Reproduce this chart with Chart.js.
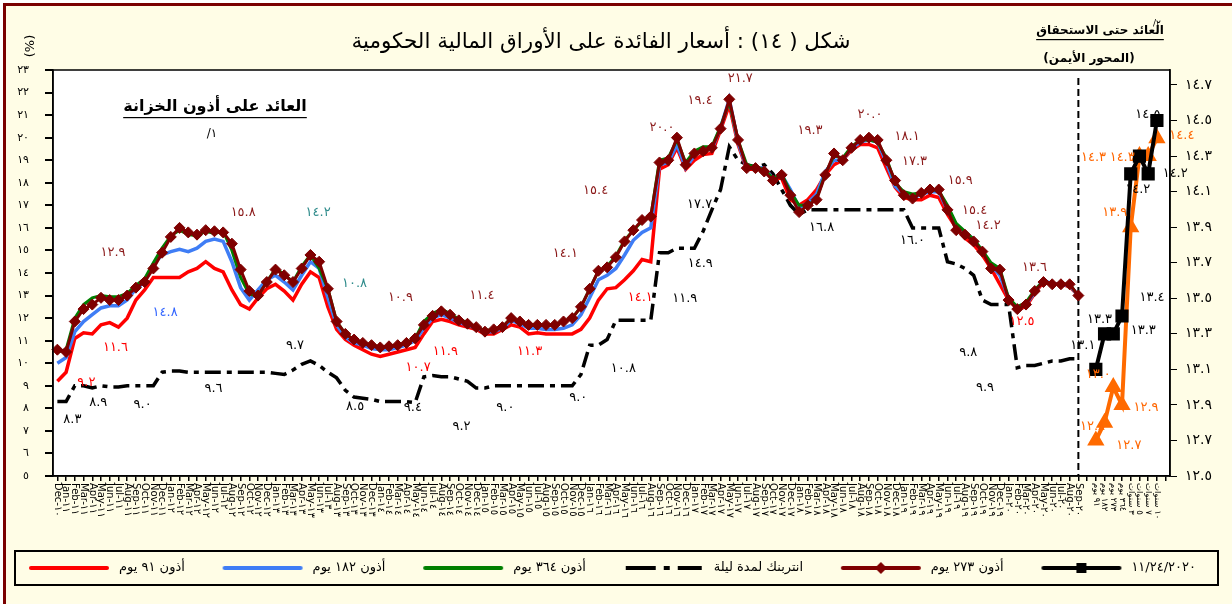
<!DOCTYPE html>
<html><head><meta charset="utf-8">
<script src="https://cdn.jsdelivr.net/npm/chart.js@4.4.0/dist/chart.umd.min.js"></script>
<style>html,body{margin:0;padding:0;background:#fff;}#wrap{width:1232px;height:604px;}</style>
</head><body><div id="wrap"><canvas id="c" width="1232" height="604"></canvas></div>
<script>
const toAr = s => String(s).replace(/[0-9]/g, d => '٠١٢٣٤٥٦٧٨٩'[d]);
const fmt = v => toAr(v.toFixed(1));

// ---- categories ----
const monthNames = ['Jan','Feb','Mar','Apr','May','Jun','Jul','Aug','Sep','Oct','Nov','Dec'];
const firstYear = 2010, firstMonth = 11, monthCount = 118;
const monthLabels = [];
for (let k = 0; k < monthCount; k++) {
  const m = (firstMonth + k) % 12, y = firstYear + Math.floor((firstMonth + k) / 12);
  monthLabels.push(monthNames[m] + '-' + toAr(String(y % 100).padStart(2, '0')));
}
const curveLabels = ['٩١ يوم','١٨٢ يوم','٢٧٣ يوم','٣٦٤ يوم','٣ سنوات','٥ سنوات','٧ سنوات','١٠ سنوات'];
const allLabels = [...monthLabels, '', ...curveLabels, ''];

// ---- left axis series (monthly, %) ----
const bill91 = [9.2,9.6,11.1,11.35,11.3,11.7,11.8,11.6,12.0,12.8,
13.25,13.8,13.8,13.8,13.8,14.05,14.2,14.5,14.2,14.05,
13.25,12.6,12.4,12.9,13.3,13.5,13.2,12.8,13.5,14.05,
13.8,12.5,11.5,11.05,10.8,10.6,10.4,10.3,10.4,10.5,
10.6,10.7,11.3,11.85,11.95,11.85,11.7,11.6,11.5,11.3,
11.3,11.5,11.7,11.6,11.3,11.35,11.3,11.3,11.3,11.3,
11.5,12.0,12.8,13.3,13.35,13.7,14.1,14.6,14.5,18.6,
18.8,19.55,18.6,19.0,19.25,19.3,20.35,21.45,19.7,18.6,
18.6,18.65,18.2,18.2,17.25,17.0,17.25,17.7,18.35,18.8,
19.0,19.45,19.7,19.7,19.55,18.65,17.8,17.35,17.25,17.25,
17.45,17.35,16.6,16.0,15.55,15.25,14.8,14.2,13.5,12.8,
12.4,12.5,13.1,13.6,13.5,13.5,13.4,13.0];
const bill182 = [10.0,10.25,11.4,11.85,12.15,12.45,12.55,12.55,12.8,13.3,
13.6,14.4,14.8,14.95,15.05,14.95,15.1,15.4,15.5,15.4,
14.5,13.35,12.8,13.25,13.7,13.9,13.6,13.25,13.9,14.5,
14.2,12.9,11.7,11.15,10.9,10.8,10.65,10.6,10.6,10.7,
10.8,11.0,11.55,12.0,12.15,12.0,11.8,11.7,11.55,11.4,
11.4,11.55,11.9,11.75,11.55,11.55,11.5,11.5,11.55,11.7,
12.15,12.9,13.7,13.9,14.2,14.8,15.45,15.8,16.0,18.8,
18.9,19.7,18.65,19.2,19.5,19.5,20.45,21.7,19.8,18.65,
18.65,18.65,18.2,18.35,17.7,16.9,17.1,17.5,18.5,19.0,
19.0,19.55,19.8,19.9,19.8,18.9,17.85,17.5,17.3,17.5,
17.6,17.6,16.8,16.15,15.8,15.5,14.95,14.35,13.9,12.9,
12.4,12.6,13.15,13.7,13.5,13.5,13.45,13.0];
const bill364 = [10.5,10.6,12.0,12.6,12.9,13.0,12.95,12.95,13.1,13.45,
13.75,14.45,15.1,15.65,15.9,15.7,15.65,15.85,15.75,15.85,
15.0,13.8,13.05,13.0,13.6,14.2,13.95,13.6,14.3,14.8,
14.2,13.3,11.85,11.3,11.05,10.9,10.8,10.7,10.75,10.8,
10.9,11.1,11.85,12.2,12.4,12.2,11.95,11.8,11.6,11.45,
11.5,11.6,12.0,11.85,11.7,11.7,11.7,11.7,11.85,12.0,
12.5,13.3,14.1,14.3,14.75,15.45,15.9,16.3,16.5,19.0,
19.1,19.9,18.9,19.4,19.6,19.6,20.5,21.6,19.9,18.8,
18.7,18.6,18.2,18.4,17.6,17.0,17.0,17.3,18.4,19.2,
19.1,19.6,19.9,19.9,19.8,19.1,18.0,17.6,17.5,17.55,
17.7,17.65,17.0,16.2,15.85,15.5,15.0,14.45,14.2,12.9,
12.5,12.7,13.25,13.65,13.5,13.5,13.5,13.0];
const interbank = [8.3,8.3,9.0,9.0,8.9,9.0,8.95,8.95,9.0,9.0,
9.0,9.0,9.6,9.65,9.65,9.6,9.6,9.6,9.6,9.6,
9.6,9.6,9.6,9.6,9.6,9.55,9.5,9.7,9.95,10.1,
9.9,9.6,9.35,8.8,8.5,8.45,8.4,8.3,8.3,8.3,
8.3,8.25,9.4,9.45,9.4,9.4,9.3,9.2,8.9,8.9,
9.0,9.0,9.0,9.0,9.0,9.0,9.0,9.0,9.0,9.0,
9.5,10.8,10.8,11.05,11.9,11.9,11.9,11.9,11.9,14.9,
14.9,15.1,15.1,15.1,15.85,16.8,17.7,19.6,19.0,18.8,
18.7,18.8,18.4,17.7,17.0,16.6,16.8,16.8,16.8,16.8,
16.8,16.8,16.8,16.8,16.8,16.8,16.8,16.8,16.0,16.0,
16.0,16.0,14.5,14.4,14.2,13.9,12.8,12.6,12.6,12.6,
9.8,9.9,9.9,10.0,10.1,10.1,10.2,10.2];
const bill273 = [10.6,10.5,11.85,12.4,12.6,12.9,12.8,12.8,13.0,13.35,
13.6,14.2,14.9,15.6,16.0,15.8,15.7,15.9,15.85,15.8,
15.3,14.15,13.2,13.0,13.6,14.15,13.9,13.6,14.2,14.8,
14.5,13.3,11.85,11.3,11.05,10.9,10.8,10.7,10.75,10.8,
10.9,11.1,11.7,12.1,12.3,12.15,11.9,11.75,11.6,11.4,
11.5,11.6,12.0,11.85,11.7,11.7,11.7,11.7,11.85,12.0,
12.5,13.3,14.1,14.25,14.7,15.4,15.9,16.35,16.5,18.9,
19.0,20.0,18.8,19.3,19.4,19.55,20.4,21.7,19.9,18.65,
18.65,18.5,18.1,18.35,17.45,16.7,17.0,17.25,18.35,19.3,
19.0,19.55,19.9,20.0,19.9,19.0,18.1,17.45,17.3,17.55,
17.7,17.7,16.8,15.9,15.7,15.4,14.95,14.2,14.15,12.8,
12.4,12.6,13.2,13.6,13.5,13.5,13.5,13.0];

// ---- right axis: yield to maturity curves ----
const curve20201124 = [13.1,13.3,13.3,13.4,14.2,14.3,14.2,14.5];
const curveOrange = [12.7,12.8,13.0,12.9,13.9,14.3,14.3,14.4];

// right axis tick labels
const rightTicks = [12.5,12.7,12.9,13.1,13.3,13.5,13.7,13.9,14.1,14.3,14.5,14.7];

const N = allLabels.length;
const CURVE_START = monthCount + 1;
const padTo = (arr, start) => { const o = new Array(N).fill(null); arr.forEach((v, i) => o[start + i] = v); return o; };

const C = { red:'#FF0000', blue:'#3F7DF5', green:'#008000', black:'#000000', brown:'#7F0000', orange:'#FF6A00' };

function icon(color, dash, marker, lw) {
  const c = document.createElement('canvas'); c.width = 84; c.height = 16;
  const g = c.getContext('2d');
  g.strokeStyle = color; g.lineWidth = lw; g.lineCap = dash ? 'butt' : 'round';
  if (dash) g.setLineDash(dash);
  g.beginPath(); g.moveTo(4, 8); g.lineTo(80, 8); g.stroke();
  g.fillStyle = color;
  if (marker === 'diamond') { g.beginPath(); g.moveTo(42, 2); g.lineTo(48, 8); g.lineTo(42, 14); g.lineTo(36, 8); g.closePath(); g.fill(); }
  if (marker === 'square') { g.fillRect(37, 3, 10, 10); }
  return c;
}

const datasets = [
  { label:'أذون ٩١ يوم', data: padTo(bill91, 0), borderColor:C.red, borderWidth:3.5, pointRadius:0, order:3, yAxisID:'y' },
  { label:'أذون ١٨٢ يوم', data: padTo(bill182, 0), borderColor:C.blue, borderWidth:3.5, pointRadius:0, order:2, yAxisID:'y' },
  { label:'أذون ٣٦٤ يوم', data: padTo(bill364, 0), borderColor:C.green, borderWidth:3, pointRadius:0, order:1, yAxisID:'y' },
  { label:'انتربنك لمدة ليلة', data: padTo(interbank, 0), borderColor:C.black, borderWidth:3.5, borderDash:[16,6,5,6], pointRadius:0, order:4, yAxisID:'y' },
  { label:'أذون ٢٧٣ يوم', data: padTo(bill273, 0), borderColor:C.brown, borderWidth:3, pointRadius:5.5, pointStyle:'rectRot', pointBackgroundColor:C.brown, pointBorderColor:C.brown, pointBorderWidth:1, order:0, yAxisID:'y' },
  { label:'١١/٢٤/٢٠٢٠', data: padTo(curve20201124, CURVE_START), borderColor:C.black, borderWidth:4, pointRadius:6.5, pointStyle:'rect', pointBackgroundColor:C.black, pointBorderColor:C.black, order:0, yAxisID:'y1' },
  { label:'orange', data: padTo(curveOrange, CURVE_START), borderColor:C.orange, borderWidth:4, pointRadius:6, pointStyle:'triangle', pointBackgroundColor:C.orange, pointBorderColor:C.orange, order:1, yAxisID:'y1' }
];

const legendOrder = [0, 1, 2, 3, 4, 5];
const legendIcons = [
  icon(C.red, null, null, 4), icon(C.blue, null, null, 4), icon(C.green, null, null, 4),
  icon(C.black, [30,8,6,8], null, 4), icon(C.brown, null, 'diamond', 4), icon(C.black, null, 'square', 4)
];

// data labels: dataset, index, offset of label centre from the point
const noteColor = ['#FF0000','#3366FF','#2E8B8B','#000000','#8B1A1A','#000000','#FF6600'];
const notes = [
  {s:4,i:5,dx:12,dy:-45},{s:4,i:19,dx:20,dy:-20},{s:4,i:40,dx:-6,dy:-45},{s:4,i:49,dx:-3,dy:-36},
  {s:4,i:62,dx:-33,dy:-17},{s:4,i:65,dx:-29,dy:-51},{s:4,i:71,dx:-15,dy:-10},{s:4,i:74,dx:-3,dy:-51},
  {s:4,i:77,dx:11,dy:-21},{s:4,i:89,dx:-24,dy:-23},{s:4,i:93,dx:1,dy:-23},{s:4,i:96,dx:12,dy:-44},
  {s:4,i:98,dx:2,dy:-37},{s:4,i:103,dx:4,dy:-50},{s:4,i:105,dx:1,dy:-31},{s:4,i:107,dx:-3,dy:-43},
  {s:4,i:113,dx:-9,dy:-14},
  {s:2,i:30,dx:-1,dy:-56},{s:2,i:36,dx:-17,dy:-62},
  {s:1,i:12,dx:3,dy:58},
  {s:0,i:0,dx:29,dy:1},{s:0,i:7,dx:-3,dy:20},{s:0,i:41,dx:3,dy:20},{s:0,i:44,dx:4,dy:32},
  {s:0,i:54,dx:1,dy:18},{s:0,i:66,dx:7,dy:27},{s:0,i:111,dx:-4,dy:15},
  {s:3,i:0,dx:15,dy:18},{s:3,i:4,dx:6,dy:15},{s:3,i:10,dx:-2,dy:19},{s:3,i:18,dx:-1,dy:16},
  {s:3,i:27,dx:2,dy:-24},{s:3,i:34,dx:1,dy:10},{s:3,i:42,dx:-11,dy:31},{s:3,i:47,dx:-6,dy:45},
  {s:3,i:51,dx:3,dy:22},{s:3,i:59,dx:6,dy:12},{s:3,i:62,dx:25,dy:23},{s:3,i:68,dx:34,dy:-22},
  {s:3,i:70,dx:32,dy:11},{s:3,i:76,dx:-21,dy:15},{s:3,i:87,dx:5,dy:18},{s:3,i:98,dx:0,dy:13},
  {s:3,i:110,dx:-49,dy:-15},{s:3,i:111,dx:-41,dy:22},
  {s:5,i:CURVE_START+0,dx:-13,dy:-24},{s:5,i:CURVE_START+1,dx:-5,dy:-14},{s:5,i:CURVE_START+2,dx:30,dy:-3},
  {s:5,i:CURVE_START+3,dx:30,dy:-18},{s:5,i:CURVE_START+4,dx:7,dy:16},{s:5,i:CURVE_START+6,dx:27,dy:0},
  {s:5,i:CURVE_START+7,dx:-9,dy:-6},
  {s:6,i:CURVE_START+0,dx:33,dy:5},{s:6,i:CURVE_START+1,dx:-12,dy:4},{s:6,i:CURVE_START+2,dx:-15,dy:-12},
  {s:6,i:CURVE_START+3,dx:24,dy:3},{s:6,i:CURVE_START+4,dx:-16,dy:-15},{s:6,i:CURVE_START+5,dx:-46,dy:2},
  {s:6,i:CURVE_START+6,dx:-26,dy:2},{s:6,i:CURVE_START+7,dx:25,dy:-3}
];

const FONT = "'DejaVu Sans', sans-serif";
Chart.defaults.font.family = FONT;
Chart.defaults.color = '#000';

function textLine(ctx, str, x, y, font, opts = {}) {
  ctx.save();
  ctx.font = font; ctx.fillStyle = opts.color || '#000';
  ctx.direction = opts.dir || 'rtl'; ctx.textAlign = 'center'; ctx.textBaseline = 'middle';
  ctx.fillText(str, x, y);
  if (opts.underline) {
    const w = ctx.measureText(str).width;
    ctx.fillRect(x - w / 2, y + opts.underline, w, 1.2);
  }
  ctx.restore();
}

const decor = {
  id: 'decor',
  beforeDraw(chart) {
    const { ctx, chartArea: a, width: W, height: H } = chart;
    ctx.save();
    ctx.fillStyle = '#fff'; ctx.fillRect(0, 0, W, H);
    ctx.fillStyle = '#FFFDE6'; ctx.fillRect(6, 6, W, H);
    ctx.fillStyle = '#7A0000'; ctx.fillRect(3, 3, W, 3); ctx.fillRect(3, 3, 3, H);
    ctx.fillStyle = '#fff'; ctx.fillRect(a.left, a.top, a.width, a.height);
    ctx.restore();
  },
  beforeDatasetsDraw(chart) {
    const { ctx, chartArea: a, scales } = chart;
    ctx.save();
    const x = scales.x.getPixelForValue(monthCount - 1);
    ctx.strokeStyle = '#000'; ctx.lineWidth = 2; ctx.setLineDash([7, 4]);
    ctx.beginPath(); ctx.moveTo(x, a.top + 8); ctx.lineTo(x, a.bottom); ctx.stroke();
    ctx.restore();
  },
  afterDatasetsDraw(chart) {
    const { ctx } = chart;
    ctx.save();
    ctx.font = '13px ' + FONT; ctx.textAlign = 'center'; ctx.textBaseline = 'middle';
    notes.forEach(n => {
      const el = chart.getDatasetMeta(n.s).data[n.i];
      const v = chart.data.datasets[n.s].data[n.i];
      if (!el || v == null) return;
      ctx.fillStyle = noteColor[n.s];
      ctx.fillText(fmt(v), el.x + n.dx, el.y + n.dy);
    });
    ctx.restore();
  },
  afterDraw(chart) {
    const { ctx, chartArea: a, scales } = chart;
    ctx.save();
    ctx.strokeStyle = '#000'; ctx.lineWidth = 1.5;
    ctx.strokeRect(a.left, a.top, a.width, a.height);
    // x labels, rotated clockwise
    ctx.fillStyle = '#000'; ctx.textBaseline = 'middle'; ctx.textAlign = 'left';
    allLabels.forEach((lab, i) => {
      if (!lab) return;
      const x = scales.x.getPixelForValue(i);
      ctx.save(); ctx.translate(x, a.bottom + 7); ctx.rotate(Math.PI / 2);
      ctx.font = (i >= CURVE_START ? '8.5px ' : '10px ') + FONT;
      ctx.fillText(lab, 0, 0);
      ctx.restore();
    });
    // legend
    const LT = 551, LB = 585, LL = 15, LR = 1218, ly = 568;
    ctx.lineWidth = 2; ctx.strokeStyle = '#000';
    ctx.strokeRect(LL, LT, LR - LL, LB - LT);
    ctx.font = '13px ' + FONT;
    const texts = legendOrder.map(di => chart.data.datasets[di].label);
    const widths = texts.map(t => ctx.measureText(t).width);
    const ICON = 78, GAP = 10;
    const total = widths.reduce((s, w) => s + ICON + GAP + w, 0);
    const x0 = 31, x1 = 1196;
    const sp = (x1 - x0 - total) / (texts.length - 1);
    let x = x0;
    ctx.textAlign = 'left'; ctx.textBaseline = 'middle'; ctx.direction = 'rtl'; ctx.fillStyle = '#000';
    texts.forEach((t, k) => {
      ctx.drawImage(legendIcons[k], x - 4, ly - 8);
      x += ICON + GAP;
      ctx.fillText(t, x, ly);
      x += widths[k] + sp;
    });
    ctx.restore();
    // texts
    textLine(ctx, 'شكل ( ١٤) : أسعار الفائدة على الأوراق المالية الحكومية', 601, 42, '21.5px ' + FONT);
    ctx.save(); ctx.translate(31, 46); ctx.rotate(-Math.PI / 2);
    ctx.font = '13px ' + FONT; ctx.textAlign = 'center'; ctx.textBaseline = 'middle'; ctx.fillStyle = '#000';
    ctx.fillText('(%)', 0, 0); ctx.restore();
    textLine(ctx, 'العائد حتى الاستحقاق', 1100, 31, 'bold 12px ' + FONT, { underline: 8 });
    textLine(ctx, '٢/', 1157, 24, '9px ' + FONT);
    textLine(ctx, '(المحور الأيمن)', 1089, 59, 'bold 12px ' + FONT);
    textLine(ctx, 'العائد على أذون الخزانة', 215, 107, 'bold 16px ' + FONT, { underline: 10 });
    textLine(ctx, '١/', 212, 134, '12px ' + FONT);
  }
};

new Chart(document.getElementById('c'), {
  type: 'line',
  data: { labels: allLabels, datasets },
  plugins: [decor],
  options: {
    responsive: false, animation: false, devicePixelRatio: 1,
    spanGaps: false,
    layout: { padding: { top: 70, left: 0, right: 0, bottom: 70 } },
    elements: { line: { tension: 0 } },
    scales: {
      x: {
        type: 'category', offset: true,
        grid: { drawOnChartArea: false, drawTicks: true, tickLength: 5, color: '#000', lineWidth: 1.5 },
        border: { display: true, color: '#000', width: 1.5 },
        ticks: { display: false },
        afterFit: s => { s.height = 58; }
      },
      y: {
        position: 'left', min: 5, max: 23,
        ticks: { stepSize: 1, callback: v => toAr(v), font: { size: 11 }, padding: 16 },
        grid: { drawOnChartArea: false, tickLength: 8, color: '#000', lineWidth: 2 },
        border: { display: true, color: '#000', width: 1.5 },
        afterFit: s => { s.width = 53; }
      },
      y1: {
        position: 'right', min: 12.5, max: 14.784,
        afterBuildTicks: s => { s.ticks = rightTicks.map(v => ({ value: v })); },
        ticks: { callback: v => fmt(v), font: { size: 14 }, padding: 8 },
        grid: { drawOnChartArea: false, tickLength: 7, color: '#000', lineWidth: 1 },
        border: { display: true, color: '#000', width: 1.5 },
        afterFit: s => { s.width = 62; }
      }
    },
    plugins: {
      title: { display: false },
      tooltip: { enabled: false },
      legend: { display: false }
    }
  }
});
</script>
</body></html>
